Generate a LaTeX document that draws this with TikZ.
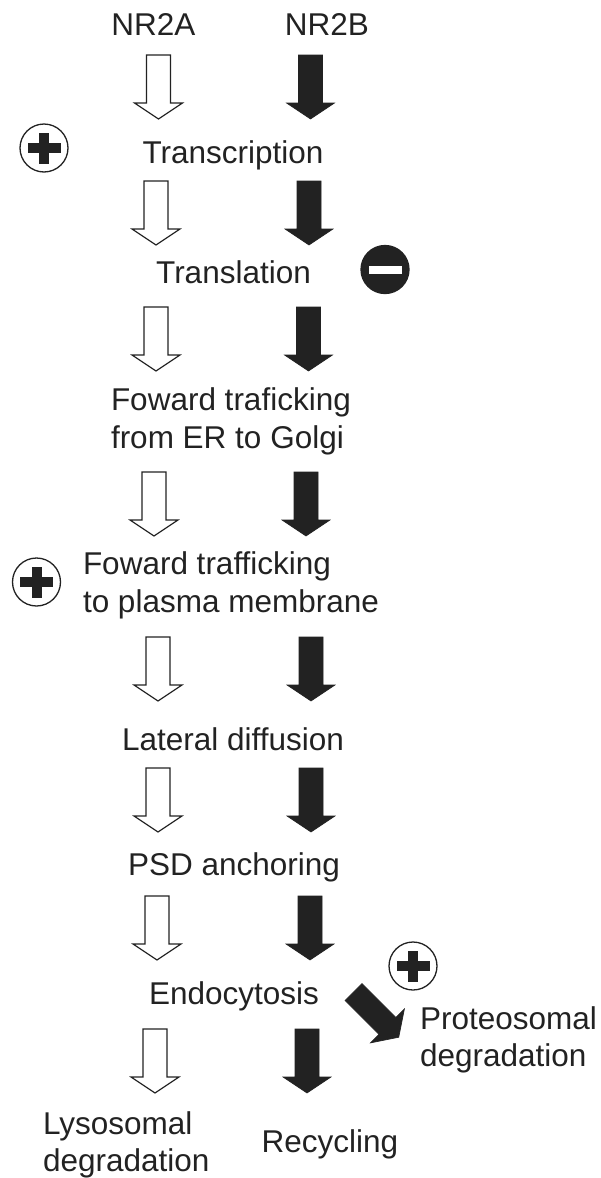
\documentclass[tikz,border=0pt]{standalone}
\usepackage{fontspec}
\setmainfont[Ligatures=NoCommon]{Liberation Sans}
\definecolor{ink}{HTML}{222222}
\tikzset{
  lbl/.style={inner sep=0pt, outer sep=0pt, text=ink, font=\fontsize{31.5}{38}\selectfont},
  pics/blockarrow/.style={code={
    \path[pic actions] (-12,0) -- (12,0) -- (12,48) -- (24,48) -- (0,64) -- (-24,48) -- (-12,48) -- cycle;
  }},
  whitearrow/.style={draw=ink, fill=white, line width=1.2pt, line join=miter},
  blackarrow/.style={draw=ink, fill=ink, line width=0.6pt, line join=miter},
  signcircle/.style={circle, minimum size=48pt, inner sep=0pt, line width=1.3pt},
}
\begin{document}
\begin{tikzpicture}[x=1pt, y=-1pt]
\useasboundingbox (0,0) rectangle (601,1178);
% labels
\node[lbl, anchor=base] (nra) at (153.5,35) {NR2A};
\node[lbl, anchor=base] (nrb) at (327,35) {NR2B};
\node[lbl, anchor=base] (transc) at (233,163) {Transcription};
\node[lbl, anchor=base] (transl) at (233.5,283) {Translation};
\node[lbl, anchor=base west] (fwa1) at (111,410) {Foward traficking};
\node[lbl, anchor=base west] (fwa2) at (111,448) {from ER to Golgi};
\node[lbl, anchor=base west] (fwb1) at (83,574) {Foward trafficking};
\node[lbl, anchor=base west] (fwb2) at (83,612) {to plasma membrane};
\node[lbl, anchor=base] (lat) at (233,750.5) {Lateral diffusion};
\node[lbl, anchor=base] (psd) at (234,875) {PSD anchoring};
\node[lbl, anchor=base] (endo) at (234,1004) {Endocytosis};
\node[lbl, anchor=base west] (lys1) at (43,1134) {Lysosomal};
\node[lbl, anchor=base west] (lys2) at (43,1171) {degradation};
\node[lbl, anchor=base] (rec) at (330,1152) {Recycling};
\node[lbl, anchor=base west] (pro1) at (420,1029) {Proteosomal};
\node[lbl, anchor=base west] (pro2) at (420,1066) {degradation};
% block arrows, white (NR2A) column
\foreach \x/\y in {158.5/55, 156/181, 156/307, 154/472, 158/637, 158/768, 157/896, 155/1029}
  \pic[whitearrow] at (\x,\y) {blockarrow};
% block arrows, black (NR2B) column
\foreach \x/\y in {310.5/55, 309/181, 308.5/307, 306/472, 311/637, 311/768, 310/896, 307/1029}
  \pic[blackarrow] at (\x,\y) {blockarrow};
% diagonal arrow to proteosomal degradation
\pic[blackarrow, rotate=45] at (353.5,992) {blockarrow};
% plus / minus signs
\node[signcircle, draw=ink, fill=white] (plusa) at (44,148) {};
\fill[ink] ([xshift=-16.5pt, yshift=5pt]plusa.center) rectangle ([xshift=16.5pt, yshift=-5pt]plusa.center);
\fill[ink] ([xshift=-5pt, yshift=15.5pt]plusa.center) rectangle ([xshift=5pt, yshift=-15.5pt]plusa.center);
\node[signcircle, draw=ink, fill=ink] (minus) at (385,269.5) {};
\fill[white] ([xshift=-16.5pt, yshift=4pt]minus.center) rectangle ([xshift=16.5pt, yshift=-4pt]minus.center);
\node[signcircle, draw=ink, fill=white] (plusb) at (36.5,582) {};
\fill[ink] ([xshift=-16.5pt, yshift=5pt]plusb.center) rectangle ([xshift=16.5pt, yshift=-5pt]plusb.center);
\fill[ink] ([xshift=-5pt, yshift=15.5pt]plusb.center) rectangle ([xshift=5pt, yshift=-15.5pt]plusb.center);
\node[signcircle, draw=ink, fill=white] (plusc) at (413,966) {};
\fill[ink] ([xshift=-16.5pt, yshift=5pt]plusc.center) rectangle ([xshift=16.5pt, yshift=-5pt]plusc.center);
\fill[ink] ([xshift=-5pt, yshift=15.5pt]plusc.center) rectangle ([xshift=5pt, yshift=-15.5pt]plusc.center);
\end{tikzpicture}
\end{document}
